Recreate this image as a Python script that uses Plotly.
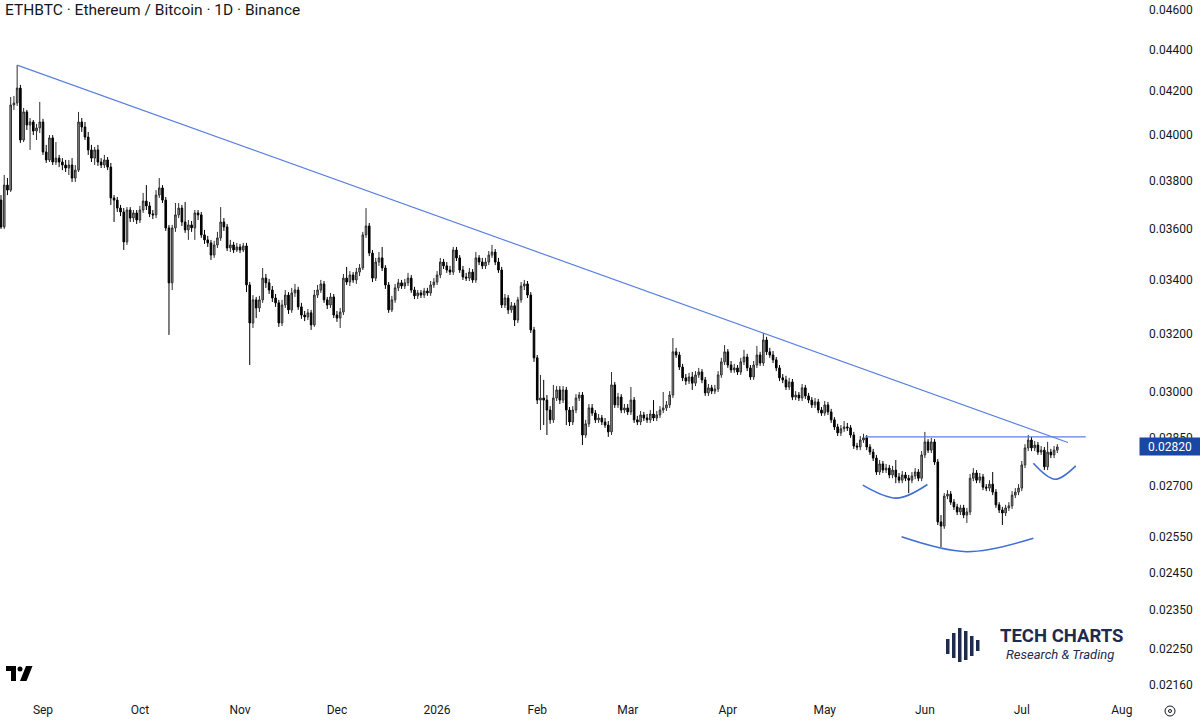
import plotly.graph_objects as go
import pandas as pd
import math

# ---------------- data (ETHBTC daily) ----------------
start_date = "2025-08-19"

opens = [
0.03718, 0.03608, 0.03781, 0.03760, 0.04136, 0.04145, 0.04215, 0.03977, 0.04104, 0.04044, 0.04058, 0.04017, 0.04031,
0.04058, 0.03924, 0.03889, 0.03986, 0.03880, 0.03897, 0.03880, 0.03867, 0.03854, 0.03867,
0.03811, 0.03845, 0.04058, 0.04035, 0.03990, 0.03933, 0.03897, 0.03933, 0.03880, 0.03867,
0.03889, 0.03858, 0.03727, 0.03718, 0.03685, 0.03669, 0.03548, 0.03677, 0.03644, 0.03665,
0.03636, 0.03677, 0.03714, 0.03694, 0.03661, 0.03657, 0.03739, 0.03769, 0.03718, 0.03604,
0.03389, 0.03604, 0.03657, 0.03685, 0.03628, 0.03596, 0.03616, 0.03604, 0.03665, 0.03657,
0.03576, 0.03556, 0.03544, 0.03496, 0.03536, 0.03564, 0.03628, 0.03608, 0.03524, 0.03536,
0.03516, 0.03528, 0.03516, 0.03532, 0.03381, 0.03240, 0.03325, 0.03295, 0.03325, 0.03407,
0.03389, 0.03362, 0.03332, 0.03314, 0.03240, 0.03306, 0.03343, 0.03288, 0.03351, 0.03362,
0.03299, 0.03269, 0.03262, 0.03277, 0.03233, 0.03343, 0.03362, 0.03385, 0.03325, 0.03306,
0.03336, 0.03269, 0.03258, 0.03280, 0.03407, 0.03392, 0.03419, 0.03400, 0.03430, 0.03446,
0.03576, 0.03612, 0.03504, 0.03407, 0.03469, 0.03485, 0.03446, 0.03381, 0.03288, 0.03325,
0.03370, 0.03389, 0.03377, 0.03389, 0.03407, 0.03362, 0.03340, 0.03351, 0.03343, 0.03358,
0.03351, 0.03381, 0.03392, 0.03419, 0.03469, 0.03454, 0.03438, 0.03430, 0.03516, 0.03485,
0.03438, 0.03411, 0.03407, 0.03430, 0.03400, 0.03485, 0.03469, 0.03454, 0.03469, 0.03496,
0.03508, 0.03469, 0.03438, 0.03306, 0.03332, 0.03288, 0.03303, 0.03251, 0.03325, 0.03377,
0.03385, 0.03343, 0.03215, 0.03116, 0.02972, 0.02979, 0.02972, 0.02939, 0.02907, 0.02979,
0.03006, 0.02972, 0.03006, 0.02939, 0.02900, 0.02939, 0.02979, 0.02989, 0.02858, 0.02894,
0.02946, 0.02929, 0.02907, 0.02913, 0.02900, 0.02890, 0.02868, 0.03023, 0.02956, 0.02982,
0.02939, 0.02946, 0.02933, 0.02972, 0.02907, 0.02900, 0.02923, 0.02913, 0.02907, 0.02926,
0.02913, 0.02923, 0.02939, 0.02946, 0.02956, 0.02989, 0.03137, 0.03126, 0.03084, 0.03047,
0.03036, 0.03050, 0.03029, 0.03057, 0.03067, 0.03040, 0.02996, 0.03013, 0.03002, 0.03009,
0.03057, 0.03102, 0.03137, 0.03091, 0.03074, 0.03081, 0.03067, 0.03102, 0.03119, 0.03081,
0.03050, 0.03091, 0.03126, 0.03098, 0.03179, 0.03137, 0.03126, 0.03109, 0.03081, 0.03047,
0.03040, 0.03016, 0.03033, 0.02982, 0.02989, 0.02979, 0.03013, 0.02986, 0.02972, 0.02956,
0.02966, 0.02939, 0.02929, 0.02956, 0.02933, 0.02907, 0.02884, 0.02865, 0.02878, 0.02884,
0.02881, 0.02858, 0.02823, 0.02820, 0.02842, 0.02849, 0.02820, 0.02804, 0.02785, 0.02742,
0.02767, 0.02748, 0.02754, 0.02733, 0.02748, 0.02727, 0.02717, 0.02733, 0.02723, 0.02717,
0.02730, 0.02742, 0.02723, 0.02795, 0.02836, 0.02810, 0.02836, 0.02773, 0.02593, 0.02581,
0.02669, 0.02675, 0.02651, 0.02637, 0.02622, 0.02634, 0.02613, 0.02622, 0.02723, 0.02739,
0.02717, 0.02727, 0.02696, 0.02693, 0.02705, 0.02681, 0.02643, 0.02628, 0.02619, 0.02634,
0.02640, 0.02672, 0.02681, 0.02693, 0.02764, 0.02817, 0.02842, 0.02817, 0.02826, 0.02804,
0.02810, 0.02758, 0.02804, 0.02795, 0.02810,
]

highs = [
0.03739, 0.03824, 0.03811, 0.04173, 0.04178, 0.04325, 0.04230, 0.04122, 0.04113, 0.04076, 0.04067, 0.04049, 0.04150,
0.04072, 0.03955, 0.03999, 0.03999, 0.03968, 0.03911, 0.03897, 0.03889, 0.03889, 0.03897,
0.03867, 0.04104, 0.04076, 0.04058, 0.04013, 0.03955, 0.03946, 0.03955, 0.03897, 0.03911,
0.03902, 0.03876, 0.03739, 0.03731, 0.03698, 0.03685, 0.03689, 0.03689, 0.03677, 0.03677,
0.03694, 0.03748, 0.03781, 0.03710, 0.03677, 0.03760, 0.03811, 0.03781, 0.03731, 0.03616,
0.03616, 0.03706, 0.03706, 0.03698, 0.03710, 0.03636, 0.03632, 0.03677, 0.03677, 0.03669,
0.03596, 0.03572, 0.03556, 0.03552, 0.03588, 0.03689, 0.03644, 0.03620, 0.03556, 0.03548,
0.03544, 0.03540, 0.03544, 0.03544, 0.03392, 0.03343, 0.03336, 0.03340, 0.03446, 0.03423,
0.03404, 0.03377, 0.03347, 0.03325, 0.03325, 0.03362, 0.03354, 0.03370, 0.03385, 0.03374,
0.03314, 0.03284, 0.03291, 0.03288, 0.03362, 0.03381, 0.03400, 0.03396, 0.03336, 0.03351,
0.03347, 0.03284, 0.03295, 0.03423, 0.03450, 0.03434, 0.03430, 0.03446, 0.03461, 0.03588,
0.03685, 0.03624, 0.03516, 0.03485, 0.03508, 0.03528, 0.03457, 0.03392, 0.03340, 0.03385,
0.03404, 0.03400, 0.03404, 0.03427, 0.03419, 0.03374, 0.03362, 0.03362, 0.03370, 0.03370,
0.03396, 0.03407, 0.03434, 0.03485, 0.03481, 0.03469, 0.03454, 0.03528, 0.03528, 0.03496,
0.03454, 0.03427, 0.03446, 0.03442, 0.03508, 0.03496, 0.03485, 0.03485, 0.03512, 0.03536,
0.03520, 0.03485, 0.03450, 0.03347, 0.03343, 0.03317, 0.03314, 0.03336, 0.03392, 0.03400,
0.03396, 0.03354, 0.03226, 0.03126, 0.03057, 0.03040, 0.02989, 0.02952, 0.03023, 0.03019,
0.03019, 0.03019, 0.03016, 0.02949, 0.02952, 0.02992, 0.02999, 0.02999, 0.02907, 0.02959,
0.02959, 0.02939, 0.02926, 0.02923, 0.02913, 0.02903, 0.03067, 0.03033, 0.02996, 0.02992,
0.02959, 0.02959, 0.03016, 0.02982, 0.02920, 0.02936, 0.02933, 0.02926, 0.02939, 0.02972,
0.02936, 0.02952, 0.02999, 0.02969, 0.03002, 0.03186, 0.03151, 0.03137, 0.03095, 0.03060,
0.03064, 0.03067, 0.03070, 0.03081, 0.03077, 0.03050, 0.03026, 0.03023, 0.03023, 0.03070,
0.03116, 0.03161, 0.03147, 0.03105, 0.03095, 0.03091, 0.03116, 0.03144, 0.03130, 0.03091,
0.03105, 0.03158, 0.03137, 0.03204, 0.03190, 0.03151, 0.03140, 0.03119, 0.03091, 0.03060,
0.03054, 0.03047, 0.03043, 0.03002, 0.02999, 0.03026, 0.03023, 0.02996, 0.02982, 0.02979,
0.02976, 0.02949, 0.02969, 0.02966, 0.02943, 0.02916, 0.02894, 0.02890, 0.02903, 0.02897,
0.02890, 0.02868, 0.02833, 0.02855, 0.02862, 0.02858, 0.02829, 0.02814, 0.02795, 0.02779,
0.02776, 0.02767, 0.02764, 0.02761, 0.02779, 0.02739, 0.02745, 0.02742, 0.02733, 0.02742,
0.02754, 0.02751, 0.02807, 0.02868, 0.02845, 0.02849, 0.02845, 0.02782, 0.02613, 0.02678,
0.02687, 0.02684, 0.02660, 0.02646, 0.02643, 0.02643, 0.02634, 0.02736, 0.02754, 0.02748,
0.02739, 0.02736, 0.02705, 0.02717, 0.02742, 0.02690, 0.02651, 0.02637, 0.02643, 0.02651,
0.02684, 0.02693, 0.02705, 0.02776, 0.02829, 0.02858, 0.02852, 0.02839, 0.02836, 0.02823,
0.02820, 0.02836, 0.02814, 0.02823, 0.02829,
]

lows = [
0.03600, 0.03600, 0.03739, 0.03752, 0.04113, 0.04131, 0.03964, 0.03968, 0.04022, 0.03933, 0.03999, 0.03977, 0.04008,
0.03911, 0.03876, 0.03880, 0.03867, 0.03867, 0.03858, 0.03845, 0.03837, 0.03824, 0.03794,
0.03794, 0.03837, 0.04013, 0.03977, 0.03911, 0.03880, 0.03867, 0.03863, 0.03854, 0.03854,
0.03845, 0.03698, 0.03628, 0.03669, 0.03652, 0.03516, 0.03536, 0.03628, 0.03628, 0.03620,
0.03624, 0.03665, 0.03677, 0.03648, 0.03640, 0.03644, 0.03727, 0.03706, 0.03592, 0.03197,
0.03362, 0.03588, 0.03644, 0.03612, 0.03584, 0.03556, 0.03588, 0.03556, 0.03636, 0.03564,
0.03540, 0.03528, 0.03477, 0.03485, 0.03524, 0.03552, 0.03592, 0.03512, 0.03508, 0.03504,
0.03508, 0.03504, 0.03508, 0.03354, 0.03091, 0.03222, 0.03258, 0.03280, 0.03314, 0.03370,
0.03347, 0.03317, 0.03299, 0.03226, 0.03229, 0.03295, 0.03273, 0.03277, 0.03336, 0.03288,
0.03255, 0.03247, 0.03251, 0.03215, 0.03226, 0.03332, 0.03351, 0.03314, 0.03291, 0.03295,
0.03258, 0.03244, 0.03222, 0.03269, 0.03381, 0.03377, 0.03389, 0.03385, 0.03415, 0.03438,
0.03564, 0.03492, 0.03392, 0.03396, 0.03454, 0.03434, 0.03366, 0.03277, 0.03280, 0.03314,
0.03358, 0.03366, 0.03366, 0.03377, 0.03351, 0.03328, 0.03328, 0.03332, 0.03332, 0.03340,
0.03340, 0.03370, 0.03381, 0.03407, 0.03442, 0.03427, 0.03419, 0.03419, 0.03473, 0.03427,
0.03400, 0.03396, 0.03396, 0.03389, 0.03389, 0.03457, 0.03442, 0.03442, 0.03457, 0.03485,
0.03457, 0.03427, 0.03295, 0.03295, 0.03273, 0.03277, 0.03229, 0.03240, 0.03314, 0.03362,
0.03332, 0.03204, 0.03102, 0.02959, 0.02874, 0.02890, 0.02858, 0.02894, 0.02897, 0.02969,
0.02959, 0.02962, 0.02890, 0.02887, 0.02890, 0.02929, 0.02969, 0.02826, 0.02849, 0.02884,
0.02920, 0.02897, 0.02897, 0.02890, 0.02881, 0.02852, 0.02858, 0.02946, 0.02946, 0.02929,
0.02929, 0.02923, 0.02923, 0.02897, 0.02890, 0.02890, 0.02903, 0.02897, 0.02897, 0.02903,
0.02903, 0.02913, 0.02929, 0.02936, 0.02946, 0.02979, 0.03116, 0.03074, 0.03036, 0.03023,
0.03026, 0.03006, 0.03019, 0.03047, 0.03029, 0.02986, 0.02986, 0.02992, 0.02992, 0.02999,
0.03047, 0.03091, 0.03081, 0.03064, 0.03064, 0.03057, 0.03057, 0.03091, 0.03070, 0.03040,
0.03040, 0.03081, 0.03088, 0.03088, 0.03126, 0.03116, 0.03098, 0.03070, 0.03036, 0.03029,
0.03006, 0.03006, 0.02972, 0.02972, 0.02969, 0.02969, 0.02976, 0.02962, 0.02946, 0.02946,
0.02929, 0.02920, 0.02920, 0.02923, 0.02897, 0.02874, 0.02855, 0.02855, 0.02868, 0.02871,
0.02849, 0.02814, 0.02810, 0.02810, 0.02833, 0.02810, 0.02795, 0.02776, 0.02733, 0.02733,
0.02739, 0.02739, 0.02723, 0.02723, 0.02708, 0.02708, 0.02708, 0.02714, 0.02678, 0.02708,
0.02720, 0.02714, 0.02714, 0.02785, 0.02801, 0.02801, 0.02764, 0.02584, 0.02521, 0.02573,
0.02660, 0.02643, 0.02628, 0.02613, 0.02613, 0.02604, 0.02590, 0.02613, 0.02714, 0.02708,
0.02708, 0.02687, 0.02684, 0.02684, 0.02672, 0.02634, 0.02619, 0.02584, 0.02610, 0.02625,
0.02631, 0.02663, 0.02672, 0.02684, 0.02754, 0.02807, 0.02807, 0.02807, 0.02795, 0.02795,
0.02748, 0.02748, 0.02785, 0.02785, 0.02801,
]

closes = [
0.03608, 0.03781, 0.03760, 0.04136, 0.04145, 0.04215, 0.03977, 0.04104, 0.04044, 0.04058, 0.04017, 0.04031, 0.04058,
0.03924, 0.03889, 0.03986, 0.03880, 0.03897, 0.03880, 0.03867, 0.03854, 0.03867, 0.03811,
0.03845, 0.04058, 0.04035, 0.03990, 0.03933, 0.03897, 0.03933, 0.03880, 0.03867, 0.03889,
0.03858, 0.03727, 0.03718, 0.03685, 0.03669, 0.03548, 0.03677, 0.03644, 0.03665, 0.03636,
0.03677, 0.03714, 0.03694, 0.03661, 0.03657, 0.03739, 0.03769, 0.03718, 0.03604, 0.03389,
0.03604, 0.03657, 0.03685, 0.03628, 0.03596, 0.03616, 0.03604, 0.03665, 0.03657, 0.03576,
0.03556, 0.03544, 0.03496, 0.03536, 0.03564, 0.03628, 0.03608, 0.03524, 0.03536, 0.03516,
0.03528, 0.03516, 0.03532, 0.03381, 0.03240, 0.03325, 0.03295, 0.03325, 0.03407, 0.03389,
0.03362, 0.03332, 0.03314, 0.03240, 0.03306, 0.03343, 0.03288, 0.03351, 0.03362, 0.03299,
0.03269, 0.03262, 0.03277, 0.03233, 0.03343, 0.03362, 0.03385, 0.03325, 0.03306, 0.03336,
0.03269, 0.03258, 0.03280, 0.03407, 0.03392, 0.03419, 0.03400, 0.03430, 0.03446, 0.03576,
0.03612, 0.03504, 0.03407, 0.03469, 0.03485, 0.03446, 0.03381, 0.03288, 0.03325, 0.03370,
0.03389, 0.03377, 0.03389, 0.03407, 0.03362, 0.03340, 0.03351, 0.03343, 0.03358, 0.03351,
0.03381, 0.03392, 0.03419, 0.03469, 0.03454, 0.03438, 0.03430, 0.03516, 0.03485, 0.03438,
0.03411, 0.03407, 0.03430, 0.03400, 0.03485, 0.03469, 0.03454, 0.03469, 0.03496, 0.03508,
0.03469, 0.03438, 0.03306, 0.03332, 0.03288, 0.03303, 0.03251, 0.03325, 0.03377, 0.03385,
0.03343, 0.03215, 0.03116, 0.02972, 0.02979, 0.02972, 0.02939, 0.02907, 0.02979, 0.03006,
0.02972, 0.03006, 0.02939, 0.02900, 0.02939, 0.02979, 0.02989, 0.02858, 0.02894, 0.02946,
0.02929, 0.02907, 0.02913, 0.02900, 0.02890, 0.02868, 0.03023, 0.02956, 0.02982, 0.02939,
0.02946, 0.02933, 0.02972, 0.02907, 0.02900, 0.02923, 0.02913, 0.02907, 0.02926, 0.02913,
0.02923, 0.02939, 0.02946, 0.02956, 0.02989, 0.03137, 0.03126, 0.03084, 0.03047, 0.03036,
0.03050, 0.03029, 0.03057, 0.03067, 0.03040, 0.02996, 0.03013, 0.03002, 0.03009, 0.03057,
0.03102, 0.03137, 0.03091, 0.03074, 0.03081, 0.03067, 0.03102, 0.03119, 0.03081, 0.03050,
0.03091, 0.03126, 0.03098, 0.03179, 0.03137, 0.03126, 0.03109, 0.03081, 0.03047, 0.03040,
0.03016, 0.03033, 0.02982, 0.02989, 0.02979, 0.03013, 0.02986, 0.02972, 0.02956, 0.02966,
0.02939, 0.02929, 0.02956, 0.02933, 0.02907, 0.02884, 0.02865, 0.02878, 0.02884, 0.02881,
0.02858, 0.02823, 0.02820, 0.02842, 0.02849, 0.02820, 0.02804, 0.02785, 0.02742, 0.02767,
0.02748, 0.02754, 0.02733, 0.02748, 0.02727, 0.02717, 0.02733, 0.02723, 0.02717, 0.02730,
0.02742, 0.02723, 0.02795, 0.02836, 0.02810, 0.02836, 0.02773, 0.02593, 0.02581, 0.02669,
0.02675, 0.02651, 0.02637, 0.02622, 0.02634, 0.02613, 0.02622, 0.02723, 0.02739, 0.02717,
0.02727, 0.02696, 0.02693, 0.02705, 0.02681, 0.02643, 0.02628, 0.02619, 0.02634, 0.02640,
0.02672, 0.02681, 0.02693, 0.02764, 0.02817, 0.02842, 0.02817, 0.02826, 0.02804, 0.02810,
0.02758, 0.02804, 0.02795, 0.02810, 0.02820,
]

last_price = 0.02820
last_price_text = "0.02820"

# price-scale tick labels
price_ticks = [0.04600, 0.04400, 0.04200, 0.04000, 0.03800, 0.03600, 0.03400, 0.03200,
               0.03000, 0.02850, 0.02700, 0.02550, 0.02450, 0.02350, 0.02250, 0.02160]
price_tick_text = ["0.04600", "0.04400", "0.04200", "0.04000", "0.03800", "0.03600", "0.03400", "0.03200",
                   "0.03000", "0.02850", "0.02700", "0.02550", "0.02450", "0.02350", "0.02250", "0.02160"]

# time-scale tick labels
month_ticks = ["2025-09-01", "2025-10-01", "2025-11-01", "2025-12-01", "2026-01-01", "2026-02-01",
               "2026-03-01", "2026-04-01", "2026-05-01", "2026-06-01", "2026-07-01", "2026-08-01"]
month_text = ["Sep", "Oct", "Nov", "Dec", "2026", "Feb", "Mar", "Apr", "May", "Jun", "Jul", "Aug"]

# drawings (date, price)
trend_dates = ["2025-08-24", "2026-07-15 07:00"]
trend_prices = [0.04325, 0.02834]
neck_dates = ["2026-05-13 12:00", "2026-07-20 19:00"]
neck_prices = [0.02852, 0.02852]
arc_left_dates = ["2026-05-12 19:00", "2026-05-23 07:00", "2026-06-01 19:00"]
arc_left_prices = [0.02702, 0.02663, 0.02704]
arc_head_dates = ["2026-05-24 19:00", "2026-06-13 22:00", "2026-07-04 14:00"]
arc_head_prices = [0.02550, 0.02508, 0.02546]
arc_right_dates = ["2026-07-04 14:00", "2026-07-11 07:00", "2026-07-17 17:00"]
arc_right_prices = [0.02769, 0.02720, 0.02761]

title_text = "ETHBTC · Ethereum / Bitcoin · 1D · Binance"

# ---------------- figure ----------------
W, H = 1200, 723
PLOT_W, PLOT_H = 1140, 697
FONT = "Roboto, 'Liberation Sans', sans-serif"
TEXT_COLOR = "#131722"
NAVY = "#1c2b4e"


def px(x):
    return x / PLOT_W


def py(y):
    return (PLOT_H - y) / PLOT_H


dates = pd.date_range(start_date, periods=len(closes), freq="D")

fig = go.Figure()
fig.add_trace(go.Candlestick(
    x=dates, open=opens, high=highs, low=lows, close=closes,
    increasing=dict(fillcolor="#9b9b9b", line=dict(color="#2e2e2e", width=1)),
    decreasing=dict(fillcolor="#000000", line=dict(color="#000000", width=1)),
    whiskerwidth=0, hoverinfo="skip", showlegend=False,
))

fig.add_trace(go.Scatter(x=trend_dates, y=trend_prices, mode="lines",
                         line=dict(color="#5a80e0", width=1.2), hoverinfo="skip", showlegend=False))
fig.add_trace(go.Scatter(x=neck_dates, y=neck_prices, mode="lines",
                         line=dict(color="#5a80e0", width=1.2), hoverinfo="skip", showlegend=False))
for ad, ap in [(arc_left_dates, arc_left_prices), (arc_head_dates, arc_head_prices),
               (arc_right_dates, arc_right_prices)]:
    fig.add_trace(go.Scatter(x=ad, y=ap, mode="lines",
                             line=dict(color="#3f6ed6", width=1.6, shape="spline", smoothing=1.0),
                             hoverinfo="skip", showlegend=False))

shapes = []
# TECH CHARTS icon bars
for (x0, x1, y0, y1) in [(946, 949.5, 639, 654), (952, 955.5, 633, 658), (958, 961.5, 628, 662),
                         (964, 967.5, 631, 660), (970, 973.5, 636, 656), (976, 979.5, 640, 651)]:
    shapes.append(dict(type="rect", xref="paper", yref="paper", x0=px(x0), x1=px(x1),
                       y0=py(y1), y1=py(y0), fillcolor=NAVY, line=dict(width=0)))
# TradingView logo
shapes.append(dict(type="rect", xref="paper", yref="paper", x0=px(6), x1=px(16), y0=py(671), y1=py(666),
                   fillcolor="#000", line=dict(width=0)))
shapes.append(dict(type="rect", xref="paper", yref="paper", x0=px(11), x1=px(16), y0=py(681), y1=py(666),
                   fillcolor="#000", line=dict(width=0)))
shapes.append(dict(type="circle", xref="paper", yref="paper", x0=px(17.5), x1=px(22.5), y0=py(671.5),
                   y1=py(666.5), fillcolor="#000", line=dict(width=0)))
shapes.append(dict(type="path", xref="paper", yref="paper",
                   path=f"M {px(26)} {py(666)} L {px(32.5)} {py(666)} L {px(26.5)} {py(681)} L {px(20)} {py(681)} Z",
                   fillcolor="#000", line=dict(width=0)))
# settings icon (bottom right)
shapes.append(dict(type="circle", xref="paper", yref="paper", x0=px(1165), x1=px(1175), y0=py(716),
                   y1=py(706), line=dict(color="#131722", width=1)))
shapes.append(dict(type="circle", xref="paper", yref="paper", x0=px(1168.5), x1=px(1171.5), y0=py(712.5),
                   y1=py(709.5), line=dict(color="#131722", width=1)))

annotations = [
    dict(text=title_text, xref="paper", yref="paper", x=px(3), y=py(10), xanchor="left", yanchor="middle",
         showarrow=False, font=dict(family=FONT, size=15.5, color=TEXT_COLOR)),
    dict(text="<b>TECH CHARTS</b>", xref="paper", yref="paper", x=px(1061), y=py(636), xanchor="center",
         yanchor="middle", showarrow=False, font=dict(family=FONT, size=18.5, color=NAVY)),
    dict(text="<i>Research &amp; Trading</i>", xref="paper", yref="paper", x=px(1060), y=py(654),
         xanchor="center", yanchor="middle", showarrow=False, font=dict(family=FONT, size=13, color=NAVY)),
    dict(text=last_price_text, xref="paper", yref="y", x=1.0, y=math.log10(last_price), xanchor="left",
         yanchor="middle", showarrow=False, bgcolor="#1a47a3", width=58, height=15, borderpad=1,
         font=dict(family=FONT, size=12, color="#ffffff"), xshift=-1),
]

x_start = "2025-08-18 16:34"
x_end = "2026-08-06 14:24"

fig.update_layout(
    width=W, height=H,
    margin=dict(l=0, r=W - PLOT_W, t=0, b=H - PLOT_H),
    paper_bgcolor="#ffffff", plot_bgcolor="#ffffff",
    showlegend=False, hovermode=False,
    shapes=shapes, annotations=annotations,
    xaxis=dict(type="date", range=[x_start, x_end], rangeslider=dict(visible=False),
               tickmode="array", tickvals=month_ticks, ticktext=month_text,
               showgrid=False, zeroline=False, showline=False, ticks="",
               tickfont=dict(family=FONT, size=12, color=TEXT_COLOR), ticklabelstandoff=4),
    yaxis=dict(type="log", side="right", range=[-1.67135, -1.33237],
               tickmode="array", tickvals=price_ticks, ticktext=price_tick_text,
               showgrid=False, zeroline=False, showline=False, ticks="",
               tickfont=dict(family=FONT, size=12, color=TEXT_COLOR), ticklabelstandoff=8),
)

fig.write_html("out.html")
